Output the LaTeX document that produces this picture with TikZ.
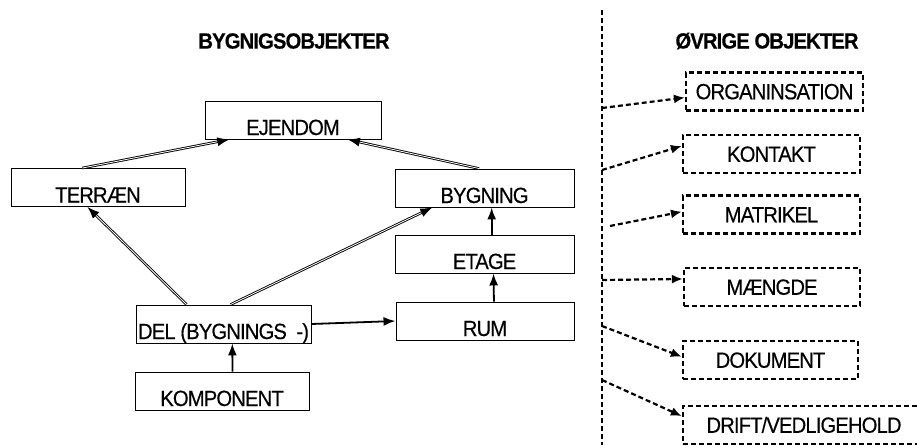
\documentclass[tikz,border=0pt]{standalone}
\usepackage{fontspec}
\setmainfont{Liberation Sans}[FakeStretch=0.92,LetterSpace=-4,FakeBold=0.4]
\usetikzlibrary{arrows.meta,calc}

\begin{document}
\begin{tikzpicture}[
    x=1pt,y=-1pt,>=Latex,
    every node/.style={font=\fontsize{22}{26}\selectfont,align=center,inner sep=0pt},
    title/.style={font=\fontsize{22}{26}\selectfont\bfseries},
    objbox/.style={draw=black,line width=0.9pt,minimum height=38pt,text height=30pt,text depth=0pt},
    otherbox/.style={draw=black,line width=2.2pt,dash pattern=on 5pt off 3pt,minimum height=38pt,text height=15.5pt,text depth=0pt},
    link/.style={-{Latex[length=12pt,width=9pt]},line width=1.8pt},
    dbllink/.style={-{Latex[length=12pt,width=9pt]},line width=0.9pt,double=white,double distance=0.8pt},
    reflink/.style={-{Latex[length=11pt,width=9pt]},line width=2.2pt,dash pattern=on 5pt off 3pt}
]
\useasboundingbox (0,0) rectangle (917,445);
\clip (0,0) rectangle (917,445);

\node[title] (lefttitle) at (294,41) {BYGNIGSOBJEKTER};
\node[title] (righttitle) at (767,41) {ØVRIGE OBJEKTER};

\node[objbox,minimum width=176pt] (ejendom) at (293,120) {EJENDOM};
\node[objbox,minimum width=174pt] (terraen) at (98,187.5) {TERRÆN};
\node[objbox,minimum width=179pt] (bygning) at (484.5,188) {BYGNING};
\node[objbox,minimum width=179pt] (etage) at (484.5,254) {ETAGE};
\node[objbox,minimum width=178pt] (rum) at (485,321) {RUM};
\node[objbox,minimum width=175pt] (del) at (223.5,324) {DEL (BYGNINGS~~-)};
\node[objbox,minimum width=174pt] (komponent) at (222,391) {KOMPONENT};

\draw[dbllink] ($(terraen.north west)!0.41!(terraen.north east)$) -- ($(ejendom.south west)!0.14!(ejendom.south east)$);
\draw[dbllink] ($(bygning.north west)!0.47!(bygning.north east)$) -- ($(ejendom.south west)!0.81!(ejendom.south east)$);
\draw[dbllink] ($(del.north west)!0.29!(del.north east)$) -- ($(terraen.south west)!0.44!(terraen.south east)$);
\draw[dbllink] ($(del.north west)!0.54!(del.north east)$) -- ($(bygning.south west)!0.21!(bygning.south east)$);
\draw[link] ($(komponent.north west)!0.56!(komponent.north east)$) -- ($(del.south west)!0.55!(del.south east)$);
\draw[link] (del.east) -- (rum.west);
\draw[link] ($(rum.north west)!0.55!(rum.north east)$) -- ($(etage.south west)!0.55!(etage.south east)$);
\draw[link] ($(etage.north west)!0.54!(etage.north east)$) -- ($(bygning.south west)!0.54!(bygning.south east)$);

\coordinate (divtop) at (602,10);
\coordinate (divbot) at (602,445);
\draw[line width=2.2pt,dash pattern=on 5pt off 3pt] (divtop) -- (divbot);

\node[otherbox,minimum width=177pt] (organisation) at (774.5,91.5) {ORGANINSATION};
\node[otherbox,minimum width=177pt] (kontakt) at (771.5,154) {KONTAKT};
\node[otherbox,minimum width=177pt] (matrikel) at (771.5,214.5) {MATRIKEL};
\node[otherbox,minimum width=176pt] (maengde) at (772,287) {MÆNGDE};
\node[otherbox,minimum width=175pt] (dokument) at (770.5,360) {DOKUMENT};
\node[otherbox,minimum width=242pt] (drift) at (804,425) {DRIFT/VEDLIGEHOLD};

\coordinate (s1) at (602,108);
\coordinate (s2) at (602,170);
\coordinate (s3) at (610,226);
\coordinate (s4) at (602,280);
\coordinate (s5) at (602,326);
\coordinate (s6) at (602,380);
\draw[reflink] (s1) -- ($(organisation.north west)!0.65!(organisation.south west)$);
\draw[reflink] (s2) -- ($(kontakt.north west)!0.3!(kontakt.south west)$);
\draw[reflink] (s3) -- ($(matrikel.north west)!0.43!(matrikel.south west)$);
\draw[reflink] (s4) -- ($(maengde.north west)!0.3!(maengde.south west)$);
\draw[reflink] (s5) -- ($(dokument.north west)!0.42!(dokument.south west)$);
\draw[reflink] (s6) -- ($(drift.north west)!0.28!(drift.south west)$);
\end{tikzpicture}
\end{document}
